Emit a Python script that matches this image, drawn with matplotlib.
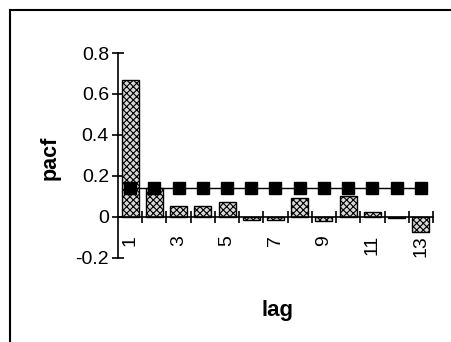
import numpy as np
import matplotlib.pyplot as plt
from matplotlib.lines import Line2D

plt.rcParams['font.family'] = ['Liberation Sans', 'DejaVu Sans']
plt.rcParams['hatch.linewidth'] = 0.8

# partial autocorrelations by lag, with the constant significance bound
lags = np.arange(1, 14)
pacf = [0.67, 0.14, 0.054, 0.055, 0.073, -0.015, -0.015, 0.093, -0.02, 0.10, 0.025, -0.005, -0.075]
bound = [0.14] * 13
tick_labels = ['1', '', '3', '', '5', '', '7', '', '9', '', '11', '', '13']

fig = plt.figure(figsize=(4.52, 3.42), dpi=100)
ax = fig.add_axes([0.261, 0.246, 0.697, 0.599])

ax.bar(lags, pacf, width=0.7, color='#d8d8d8', edgecolor='black', linewidth=1.0,
       hatch='xxxxx', zorder=2)
ax.plot(lags, bound, color='black', lw=1.0, marker='s', markersize=8.5,
        markerfacecolor='black', markeredgecolor='black', zorder=3)

ax.set_xlim(0.5, 13.5)
ax.set_ylim(-0.2, 0.8)
ax.spines['bottom'].set_position(('data', 0))
ax.spines['top'].set_visible(False)
ax.spines['right'].set_visible(False)
ax.spines['left'].set_linewidth(1.2)
ax.spines['bottom'].set_linewidth(1.2)

ax.set_yticks([-0.2, 0, 0.2, 0.4, 0.6, 0.8])
ax.set_yticklabels(['-0.2', '0', '0.2', '0.4', '0.6', '0.8'], fontsize=14)
ax.tick_params(axis='y', direction='inout', length=9, width=1.2, pad=2)

# ticks sit between the categories, labels under each lag
ax.set_xticks(np.arange(1.5, 14, 1.0))
ax.set_xticks(lags, minor=True)
ax.set_xticklabels([])
ax.set_xticklabels(tick_labels, minor=True, rotation=90, fontsize=14)
ax.tick_params(axis='x', which='major', direction='inout', length=9, width=1.2)
ax.tick_params(axis='x', which='minor', length=0, pad=13)

fig.text(0.11, 0.538, 'pacf', rotation=90, fontsize=15.5, fontweight='bold',
         ha='center', va='center')
fig.text(0.613, 0.093, 'lag', fontsize=16, fontweight='bold', ha='center', va='center')

# outer frame lines (top and left)
fig.add_artist(Line2D([10 / 452, 450 / 452], [1 - 10 / 342, 1 - 10 / 342],
                      color='black', lw=1.5, transform=fig.transFigure))
fig.add_artist(Line2D([10 / 452, 10 / 452], [0, 1 - 10 / 342],
                      color='black', lw=1.5, transform=fig.transFigure))

fig.savefig('out.png', dpi=100)
